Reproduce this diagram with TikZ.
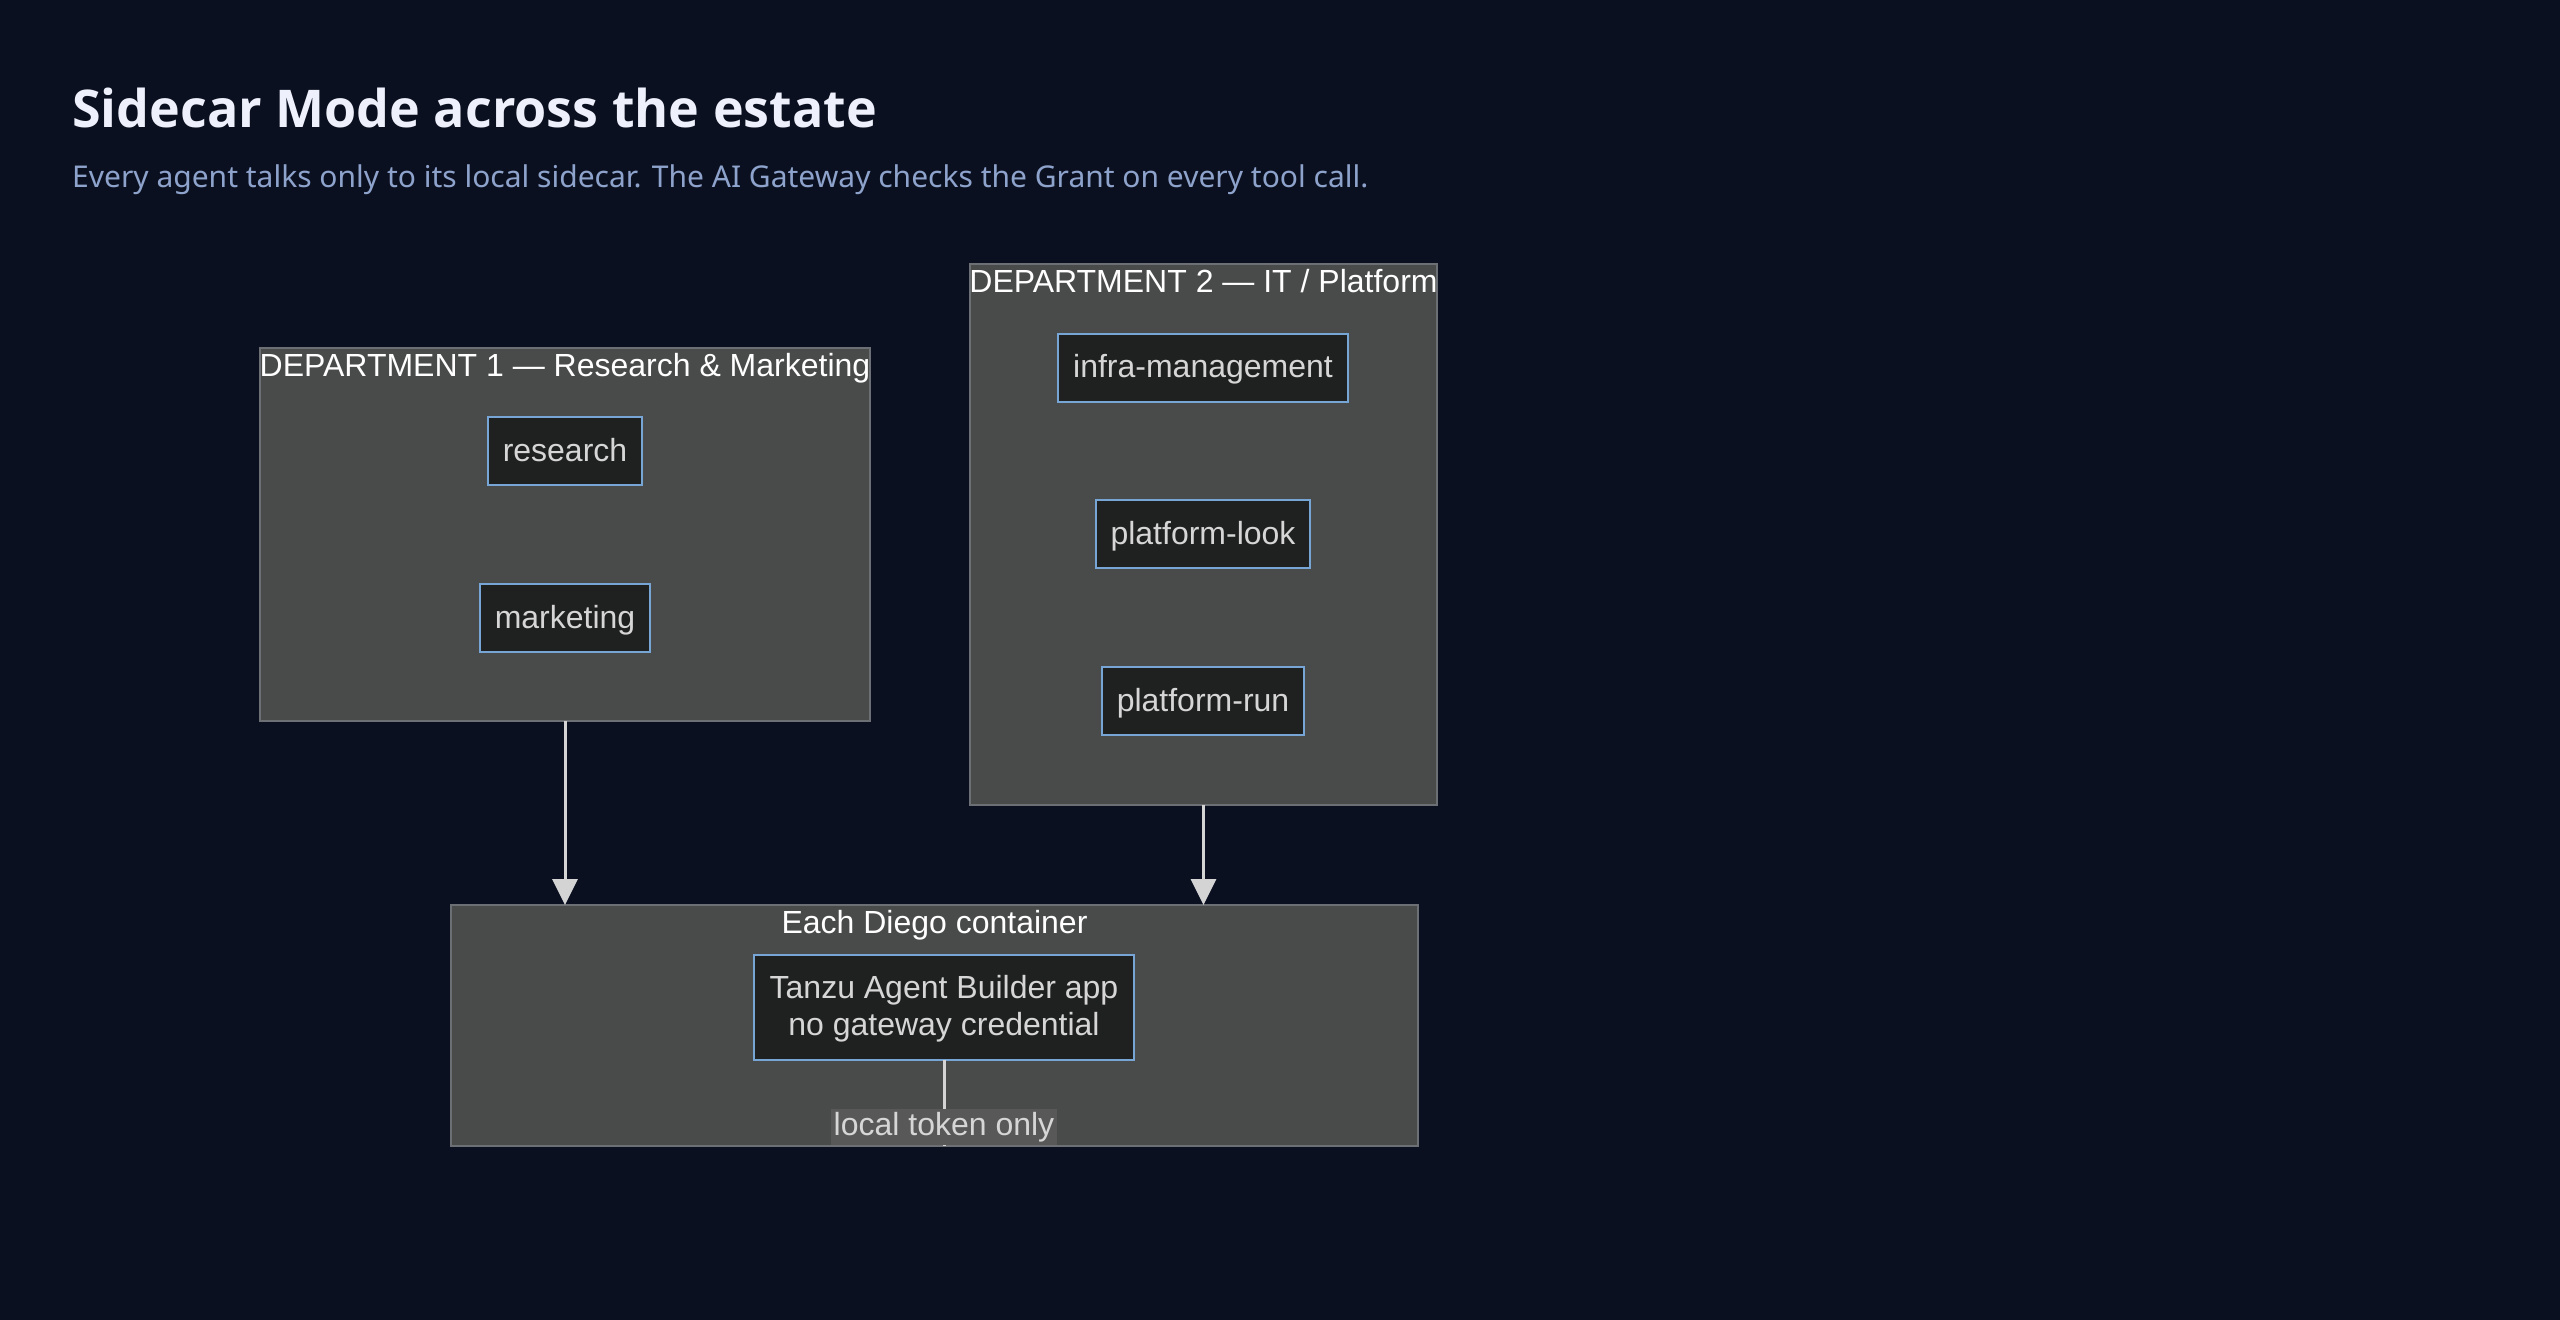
\documentclass[tikz,border=0pt]{standalone}
\usepackage{fontspec}
\setmainfont{Liberation Sans}
\newfontfamily\notosans{Noto Sans}
\newfontfamily\headfont{Open Sans}
\usetikzlibrary{arrows.meta}

\definecolor{bg}{HTML}{0B1020}
\definecolor{titlecol}{HTML}{EEF0FB}
\definecolor{subcol}{HTML}{8EA3CC}
\definecolor{grpfill}{HTML}{494A4A}
\definecolor{grpline}{HTML}{6C6F73}
\definecolor{agentfill}{HTML}{1F2020}
\definecolor{agentline}{HTML}{76A5D6}
\definecolor{agenttext}{HTML}{D6D6D6}
\definecolor{flowcol}{HTML}{D4D4D4}
\definecolor{tagfill}{HTML}{585858}

\tikzset{
  group/.style={fill=grpfill, draw=grpline, line width=2pt, inner sep=0pt, outer sep=0pt},
  grouplabel/.style={anchor=base, text=white, font=\fontsize{32}{38}\selectfont},
  agent/.style={fill=agentfill, draw=agentline, line width=2pt, text=agenttext,
    font=\fontsize{32}{37}\selectfont, inner xsep=15pt, minimum height=68pt, outer sep=0pt,
    text height=24pt, text depth=4pt},
  flow/.style={draw=flowcol, line width=3pt}
}

\begin{document}
\begin{tikzpicture}[x=1pt, y=-1pt, >={Triangle[width=25pt,length=26pt]}]
    \fill[bg] (0,0) rectangle (2560,1320);
    \useasboundingbox (0,0) rectangle (2560,1320);

    \node[anchor=base west, inner sep=0pt, text=titlecol, font=\headfont\bfseries\fontsize{52}{58}\selectfont] (title) at (72,127) {Sidecar Mode across the estate};
    \node[anchor=base west, inner sep=0pt, text=subcol, font=\notosans\fontsize{30}{36}\selectfont] (subtitle) at (72,187) {Every agent talks only to its local sidecar. The AI Gateway checks the Grant on every tool call.};

    % departments
    \node[group, minimum width=610pt, minimum height=373pt] (dept1) at (565,534.5) {};
    \node[grouplabel] (dept1label) at ([yshift=-28pt]dept1.north) {DEPARTMENT 1 — Research \& Marketing};
    \node[agent] (research) at (565,451) {research};
    \node[agent] (marketing) at (565,618) {marketing};

    \node[group, minimum width=467pt, minimum height=541pt] (dept2) at (1203.5,534.5) {};
    \node[grouplabel] (dept2label) at ([yshift=-28pt]dept2.north) {DEPARTMENT 2 — IT / Platform};
    \node[agent] (infra) at (1203,367.5) {infra-management};
    \node[agent] (look) at (1203,534) {platform-look};
    \node[agent] (run) at (1203,701) {platform-run};

    % container
    \node[group, minimum width=967pt, minimum height=241pt] (diego) at (934.5,1025.5) {};
    \node[grouplabel] (diegolabel) at ([yshift=-28pt]diego.north) {Each Diego container};
    \node[agent, align=center, minimum height=105pt, inner xsep=16pt, text height=60pt, text depth=4pt] (tanzu) at (944,1007) {Tanzu Agent Builder app\\no gateway credential};

    \draw[->, flow] (dept1.south) -- (dept1.south |- diego.north);
    \draw[->, flow] (dept2.south) -- (dept2.south |- diego.north);
    \draw[flow] (tanzu.south) -- (tanzu.south |- diego.south)
      node[pos=0.78, fill=tagfill, text=agenttext, inner xsep=3pt, inner ysep=2pt, minimum height=36pt,
        font=\fontsize{32}{37}\selectfont] (token) {local token only};
\end{tikzpicture}
\end{document}
